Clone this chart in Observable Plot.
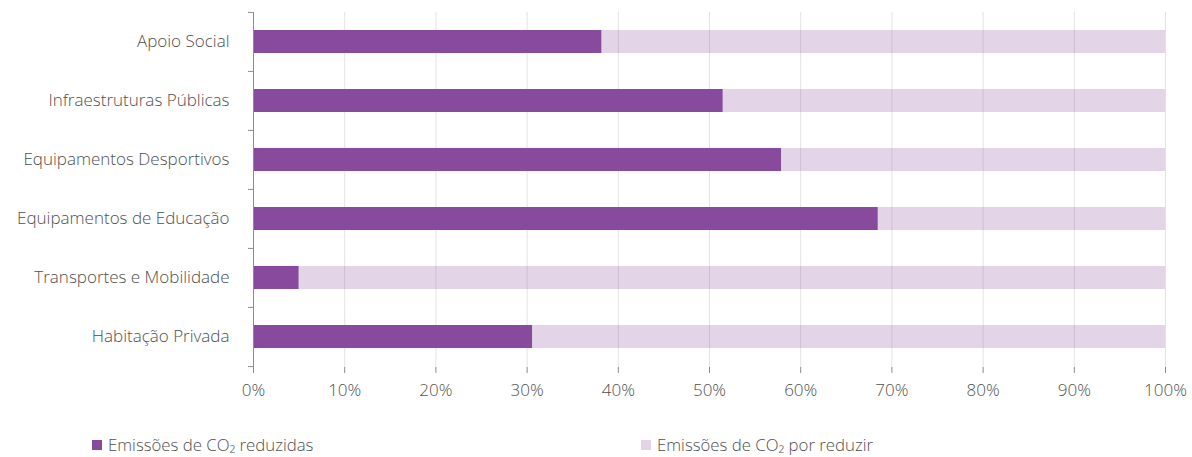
<!DOCTYPE html>
<html>
<head>
<meta charset="utf-8">
<script src="https://cdn.jsdelivr.net/npm/d3@7"></script>
<script src="https://cdn.jsdelivr.net/npm/@observablehq/plot@0.6"></script>
<style>
  html, body { margin: 0; padding: 0; background: #fff; }
  #wrap { position: relative; width: 1192px; height: 457px; font-family: "Open Sans", sans-serif; font-weight: 300; color: #505050; }
  #wrap svg text { font-weight: 300; }
  .legend { position: absolute; top: 433px; font-size: 16.8px; display: flex; align-items: center; white-space: nowrap; }
  .legend .sw { width: 10px; height: 10px; margin-right: 6px; }
</style>
</head>
<body>
<div id="wrap"></div>
<script>
const categories = ["Apoio Social", "Infraestruturas Públicas", "Equipamentos Desportivos", "Equipamentos de Educação", "Transportes e Mobilidade", "Habitação Privada"];
const reduced = [0.382, 0.515, 0.579, 0.685, 0.050, 0.306];
const seriesNames = ["Emissões de CO₂ reduzidas", "Emissões de CO₂ por reduzir"];
const colors = ["#874A9C", "#E3D4E8"];
const xTicks = [0, 0.1, 0.2, 0.3, 0.4, 0.5, 0.6, 0.7, 0.8, 0.9, 1];

const rows = [];
categories.forEach((c, i) => {
  rows.push({cat: c, series: seriesNames[0], value: reduced[i], k: 0});
  rows.push({cat: c, series: seriesNames[1], value: 1 - reduced[i], k: 1});
});

const W = 1192, H = 400;
const mTop = 12, mBottom = 33;
const step = (H - mTop - mBottom) / categories.length;

const plot = Plot.plot({
  width: W,
  height: H,
  marginLeft: 253,
  marginRight: 27,
  marginTop: mTop,
  marginBottom: mBottom,
  style: {fontFamily: "Open Sans, sans-serif", fontSize: "17px", color: "#505050", background: "#fff"},
  x: {domain: [0, 1]},
  y: {domain: categories, paddingInner: 0.61, paddingOuter: 0.305, align: 0.5},
  marks: [
    Plot.ruleX(xTicks, {stroke: "#e3e3e3", strokeWidth: 1}),
    Plot.barX(rows, Plot.stackX({
      y: "cat", x: "value", fill: "#874A9C",
      fillOpacity: d => d.k === 0 ? 1 : 0.235
    })),
    // y axis line and band-boundary ticks
    Plot.ruleX([0], {stroke: "#8c8c8c", strokeWidth: 1}),
    Plot.ruleY(categories, {y: d => d, x1: -0.0055, x2: 0, dy: -step / 2, stroke: "#8c8c8c"}),
    Plot.ruleY(categories.slice(-1), {y: d => d, x1: -0.0055, x2: 0, dy: step / 2, stroke: "#8c8c8c"}),
    Plot.axisY({tickSize: 0, tickPadding: 24, label: null, fill: "#505050", fontSize: 17}),
    // x axis
    Plot.ruleY([0], {frameAnchor: "bottom", stroke: "#8c8c8c"}),
    Plot.axisX({ticks: xTicks, tickFormat: d3.format(".0%"), tickSize: 6, tickPadding: 10, stroke: "#8c8c8c", fill: "#505050", label: null, fontSize: 17})
  ]
});

const wrap = document.getElementById("wrap");
wrap.appendChild(plot);

const legendX = [92, 641];
seriesNames.forEach((s, i) => {
  const d = document.createElement("div");
  d.className = "legend";
  d.style.left = legendX[i] + "px";
  d.innerHTML = `<span class="sw" style="background:${colors[i]}"></span><span>${s}</span>`;
  wrap.appendChild(d);
});
</script>
</body>
</html>
